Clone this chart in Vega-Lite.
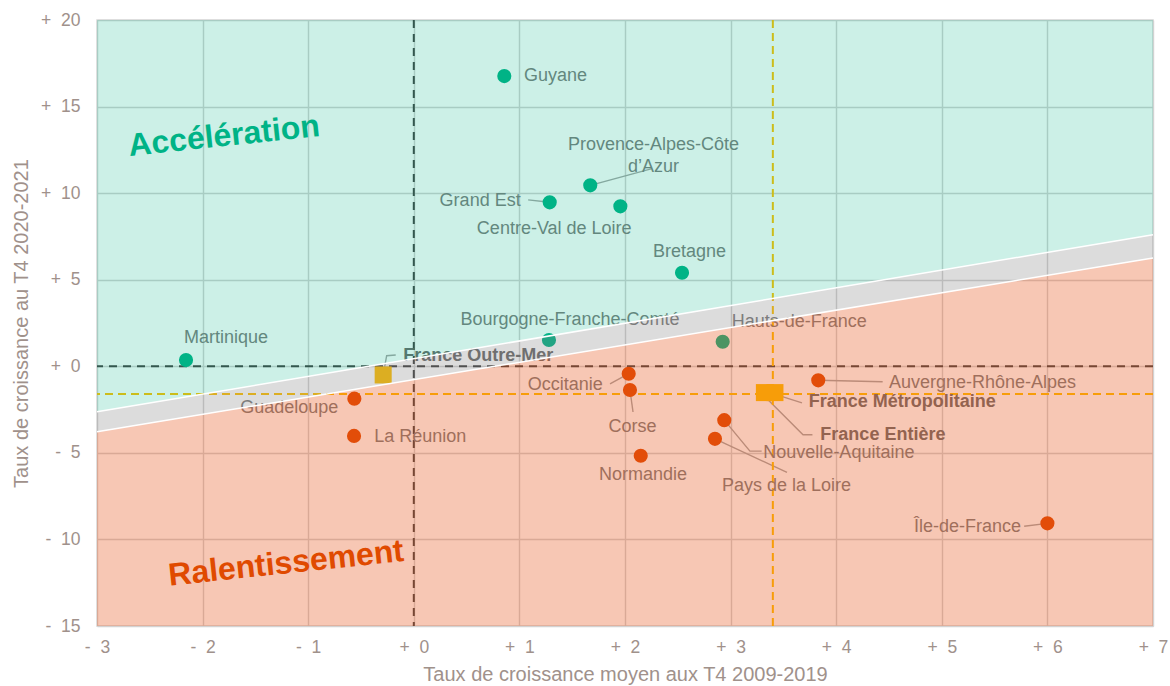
{
  "$schema": "https://vega.github.io/schema/vega-lite/v6.json",
  "width": 1056,
  "height": 606,
  "autosize": "none",
  "padding": {"left": 97, "top": 20, "right": 17, "bottom": 60},
  "background": "white",
  "config": {
    "font": "Liberation Sans",
    "view": {"stroke": "#d9d9d9", "strokeWidth": 1.5},
    "axis": {
      "domain": false,
      "ticks": false,
      "grid": true,
      "gridColor": "#d2d2d2",
      "gridWidth": 1.4,
      "labelFont": "Liberation Sans",
      "labelFontSize": 17.5,
      "labelColor": "#a0918b",
      "labelFlush": false,
      "labelOverlap": false,
      "labelBound": false,
      "titleFont": "Liberation Sans",
      "titleFontSize": 20,
      "titleFontWeight": "normal",
      "titleColor": "#a0918b"
    }
  },
  "datasets": {
    "regions": [
      {"region": "Guyane", "x": 0.857, "y": 16.76, "groupe": "Accélération"},
      {"region": "Provence-Alpes-Côte d’Azur", "x": 1.671, "y": 10.45, "groupe": "Accélération"},
      {"region": "Grand Est", "x": 1.287, "y": 9.47, "groupe": "Accélération"},
      {"region": "Centre-Val de Loire", "x": 1.956, "y": 9.24, "groupe": "Accélération"},
      {"region": "Bretagne", "x": 2.54, "y": 5.4, "groupe": "Accélération"},
      {"region": "Bourgogne-Franche-Comté", "x": 1.28, "y": 1.52, "groupe": "Accélération"},
      {"region": "Hauts-de-France", "x": 2.925, "y": 1.42, "groupe": "Accélération"},
      {"region": "Martinique", "x": -2.157, "y": 0.36, "groupe": "Accélération"},
      {"region": "Occitanie", "x": 2.035, "y": -0.43, "groupe": "Ralentissement"},
      {"region": "Corse", "x": 2.047, "y": -1.37, "groupe": "Ralentissement"},
      {"region": "Nouvelle-Aquitaine", "x": 2.94, "y": -3.11, "groupe": "Ralentissement"},
      {"region": "Pays de la Loire", "x": 2.852, "y": -4.19, "groupe": "Ralentissement"},
      {"region": "Normandie", "x": 2.149, "y": -5.17, "groupe": "Ralentissement"},
      {"region": "Guadeloupe", "x": -0.563, "y": -1.87, "groupe": "Ralentissement"},
      {"region": "La Réunion", "x": -0.566, "y": -4.02, "groupe": "Ralentissement"},
      {"region": "Auvergne-Rhône-Alpes", "x": 3.83, "y": -0.81, "groupe": "Ralentissement"},
      {"region": "Île-de-France", "x": 6.0, "y": -9.07, "groupe": "Ralentissement"}
    ],
    "france": [
      {"region": "France Outre-Mer", "x": -0.29, "y": -0.5},
      {"region": "France Entière", "x": 3.32, "y": -1.52},
      {"region": "France Métropolitaine", "x": 3.42, "y": -1.52}
    ],
    "labels_left": [
      {"name": "Guyane", "lx": 1.044, "ly": 16.76},
      {"name": "Hauts-de-France", "lx": 3.01, "ly": 2.58},
      {"name": "La Réunion", "lx": -0.375, "ly": -4.07},
      {"name": "Auvergne-Rhône-Alpes", "lx": 4.5, "ly": -0.95},
      {"name": "Nouvelle-Aquitaine", "lx": 3.31, "ly": -5.02}
    ],
    "labels_right": [
      {"name": "Grand Est", "lx": 1.012, "ly": 9.57},
      {"name": "Occitanie", "lx": 1.79, "ly": -1.08},
      {"name": "Île-de-France", "lx": 5.75, "ly": -9.31}
    ],
    "labels_center": [
      {"name": "Provence-Alpes-Côte\nd’Azur", "lx": 2.27, "ly": 12.8},
      {"name": "Centre-Val de Loire", "lx": 1.33, "ly": 7.93},
      {"name": "Bretagne", "lx": 2.61, "ly": 6.61},
      {"name": "Bourgogne-Franche-Comté", "lx": 1.479, "ly": 2.68},
      {"name": "Martinique", "lx": -1.778, "ly": 1.66},
      {"name": "Guadeloupe", "lx": -1.18, "ly": -2.43},
      {"name": "Corse", "lx": 2.07, "ly": -3.49},
      {"name": "Normandie", "lx": 2.17, "ly": -6.25},
      {"name": "Pays de la Loire", "lx": 3.53, "ly": -6.93}
    ],
    "labels_bold": [
      {"name": "France Outre-Mer", "lx": -0.1, "ly": 0.59},
      {"name": "France Métropolitaine", "lx": 3.74, "ly": -2.07},
      {"name": "France Entière", "lx": 3.85, "ly": -3.95}
    ],
    "leaders": [
      {"id": "PACA", "k": 1, "x": 1.671, "y": 10.45},
      {"id": "PACA", "k": 2, "x": 2.256, "y": 11.42},
      {"id": "GE", "k": 1, "x": 1.083, "y": 9.61},
      {"id": "GE", "k": 2, "x": 1.287, "y": 9.47},
      {"id": "OCC", "k": 1, "x": 1.858, "y": -1.02},
      {"id": "OCC", "k": 2, "x": 2.035, "y": -0.43},
      {"id": "COR", "k": 1, "x": 2.047, "y": -1.37},
      {"id": "COR", "k": 2, "x": 2.076, "y": -2.64},
      {"id": "ARA", "k": 1, "x": 3.83, "y": -0.81},
      {"id": "ARA", "k": 2, "x": 4.44, "y": -0.89},
      {"id": "FM", "k": 1, "x": 3.676, "y": -2.11},
      {"id": "FM", "k": 2, "x": 3.43, "y": -1.64},
      {"id": "FE", "k": 1, "x": 3.775, "y": -3.95},
      {"id": "FE", "k": 2, "x": 3.686, "y": -3.95},
      {"id": "FE", "k": 3, "x": 3.307, "y": -1.64},
      {"id": "NA", "k": 1, "x": 2.94, "y": -3.11},
      {"id": "NA", "k": 2, "x": 3.183, "y": -4.9},
      {"id": "NA", "k": 3, "x": 3.294, "y": -4.9},
      {"id": "PDL", "k": 1, "x": 2.852, "y": -4.19},
      {"id": "PDL", "k": 2, "x": 3.534, "y": -6.13},
      {"id": "IDF", "k": 1, "x": 5.78, "y": -9.24},
      {"id": "IDF", "k": 2, "x": 6.0, "y": -9.07},
      {"id": "FOM", "k": 1, "x": -0.29, "y": -0.5},
      {"id": "FOM", "k": 2, "x": -0.257, "y": 0.61},
      {"id": "FOM", "k": 3, "x": -0.171, "y": 0.65}
    ],
    "zones": [
      {"x": -3, "bas": -15, "limOrange": -3.78, "limVert": -2.63, "haut": 20},
      {"x": 7, "bas": -15, "limOrange": 6.25, "limVert": 7.6, "haut": 20}
    ]
  },
  "layer": [
    {
      "data": {"name": "leaders"},
      "mark": {"type": "line", "color": "#a6a6a6", "strokeWidth": 1.4},
      "encoding": {
        "x": {"field": "x", "type": "quantitative", "scale": {"domain": [-3, 7], "nice": false, "zero": false},
          "axis": {"title": "Taux de croissance moyen aux T4 2009-2019", "values": [-3, -2, -1, 0, 1, 2, 3, 4, 5, 6, 7],
            "labelExpr": "(datum.value >= 0 ? '+\u00a0\u00a0' : '-\u00a0\u00a0') + abs(datum.value)", "labelPadding": 12, "titlePadding": 9}},
        "y": {"field": "y", "type": "quantitative", "scale": {"domain": [-15, 20], "nice": false, "zero": false},
          "axis": {"title": "Taux de croissance au T4 2020-2021", "values": [-15, -10, -5, 0, 5, 10, 15, 20],
            "labelExpr": "(datum.value >= 0 ? '+\u00a0\u00a0' : '-\u00a0\u00a0') + abs(datum.value)", "labelPadding": 17, "titlePadding": 9}},
        "detail": {"field": "id"},
        "order": {"field": "k", "type": "quantitative"}
      }
    },
    {
      "data": {"values": [{"v": 0}]},
      "mark": {"type": "rule", "color": "#404040", "strokeWidth": 2, "strokeDash": [8, 6]},
      "encoding": {"x": {"field": "v", "type": "quantitative", "scale": {"domain": [-3, 7], "nice": false, "zero": false}}}
    },
    {
      "data": {"values": [{"v": 0}]},
      "mark": {"type": "rule", "color": "#404040", "strokeWidth": 2, "strokeDash": [8, 6]},
      "encoding": {"y": {"field": "v", "type": "quantitative", "scale": {"domain": [-15, 20], "nice": false, "zero": false}}}
    },
    {
      "data": {"values": [{"v": 3.4}]},
      "mark": {"type": "rule", "color": "#ffc000", "strokeWidth": 2, "strokeDash": [8, 5]},
      "encoding": {"x": {"field": "v", "type": "quantitative", "scale": {"domain": [-3, 7], "nice": false, "zero": false}}}
    },
    {
      "data": {"values": [{"v": -1.6}]},
      "mark": {"type": "rule", "color": "#ffc000", "strokeWidth": 2, "strokeDash": [8, 5]},
      "encoding": {"y": {"field": "v", "type": "quantitative", "scale": {"domain": [-15, 20], "nice": false, "zero": false}}}
    },
    {
      "data": {"name": "regions"},
      "mark": {"type": "circle", "size": 200, "opacity": 1},
      "encoding": {
        "x": {"field": "x", "type": "quantitative"},
        "y": {"field": "y", "type": "quantitative"},
        "color": {"field": "groupe", "type": "nominal", "scale": {"domain": ["Accélération", "Ralentissement"], "range": ["#00b386", "#e04a00"]}, "legend": null}
      }
    },
    {
      "data": {"name": "france"},
      "mark": {"type": "square", "size": 290, "opacity": 1, "color": "#ffc000"},
      "encoding": {
        "x": {"field": "x", "type": "quantitative"},
        "y": {"field": "y", "type": "quantitative"}
      }
    },
    {
      "data": {"name": "labels_left"},
      "mark": {"type": "text", "align": "left", "baseline": "middle", "fontSize": 18, "color": "#7c7c7c"},
      "encoding": {"x": {"field": "lx", "type": "quantitative"}, "y": {"field": "ly", "type": "quantitative"}, "text": {"field": "name"}}
    },
    {
      "data": {"name": "labels_right"},
      "mark": {"type": "text", "align": "right", "baseline": "middle", "fontSize": 18, "color": "#7c7c7c"},
      "encoding": {"x": {"field": "lx", "type": "quantitative"}, "y": {"field": "ly", "type": "quantitative"}, "text": {"field": "name"}}
    },
    {
      "data": {"name": "labels_center"},
      "mark": {"type": "text", "align": "center", "baseline": "middle", "fontSize": 18, "color": "#7c7c7c", "lineBreak": "\n", "lineHeight": 22},
      "encoding": {"x": {"field": "lx", "type": "quantitative"}, "y": {"field": "ly", "type": "quantitative"}, "text": {"field": "name"}}
    },
    {
      "data": {"name": "labels_bold"},
      "mark": {"type": "text", "align": "left", "baseline": "middle", "fontSize": 18, "fontWeight": "bold", "color": "#6a6a6a"},
      "encoding": {"x": {"field": "lx", "type": "quantitative"}, "y": {"field": "ly", "type": "quantitative"}, "text": {"field": "name"}}
    },
    {
      "data": {"name": "zones"},
      "mark": {"type": "area", "color": "#00b386", "opacity": 0.2},
      "encoding": {"x": {"field": "x", "type": "quantitative"}, "y": {"field": "limVert", "type": "quantitative"}, "y2": {"field": "haut"}}
    },
    {
      "data": {"name": "zones"},
      "mark": {"type": "area", "color": "#7f7f7f", "opacity": 0.27},
      "encoding": {"x": {"field": "x", "type": "quantitative"}, "y": {"field": "limOrange", "type": "quantitative"}, "y2": {"field": "limVert"}}
    },
    {
      "data": {"name": "zones"},
      "mark": {"type": "area", "color": "#e8541a", "opacity": 0.33},
      "encoding": {"x": {"field": "x", "type": "quantitative"}, "y": {"field": "bas", "type": "quantitative"}, "y2": {"field": "limOrange"}}
    },
    {
      "data": {"name": "zones"},
      "mark": {"type": "line", "color": "white", "strokeWidth": 1.5},
      "encoding": {"x": {"field": "x", "type": "quantitative"}, "y": {"field": "limVert", "type": "quantitative"}}
    },
    {
      "data": {"name": "zones"},
      "mark": {"type": "line", "color": "white", "strokeWidth": 1.5},
      "encoding": {"x": {"field": "x", "type": "quantitative"}, "y": {"field": "limOrange", "type": "quantitative"}}
    },
    {
      "data": {"values": [{"zone": "Accélération", "x": -1.797, "y": 13.3}]},
      "mark": {"type": "text", "align": "center", "baseline": "middle", "fontSize": 32, "fontWeight": "bold", "angle": 354, "color": "#00b386"},
      "encoding": {"x": {"field": "x", "type": "quantitative"}, "y": {"field": "y", "type": "quantitative"}, "text": {"field": "zone"}}
    },
    {
      "data": {"values": [{"zone": "Ralentissement", "x": -1.21, "y": -11.38}]},
      "mark": {"type": "text", "align": "center", "baseline": "middle", "fontSize": 32, "fontWeight": "bold", "angle": 354, "color": "#e04a00"},
      "encoding": {"x": {"field": "x", "type": "quantitative"}, "y": {"field": "y", "type": "quantitative"}, "text": {"field": "zone"}}
    }
  ]
}
